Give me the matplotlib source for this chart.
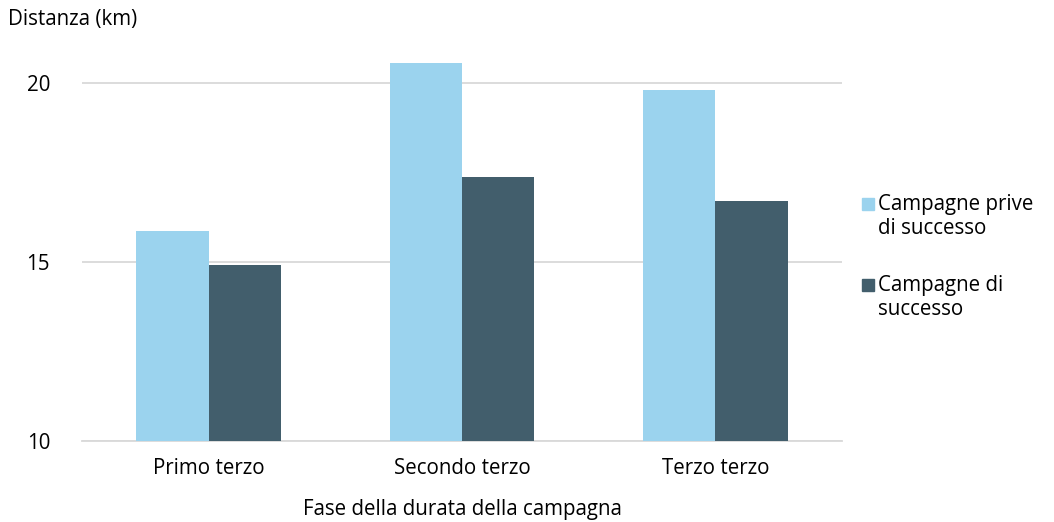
import numpy as np
import matplotlib.pyplot as plt
from matplotlib.patches import Rectangle

plt.rcParams['font.family'] = ['Open Sans', 'DejaVu Sans']

categories = ['Primo terzo', 'Secondo terzo', 'Terzo terzo']
senza_successo = [15.87, 20.56, 19.80]
con_successo = [14.92, 17.37, 16.70]
series_labels = ['Campagne prive\ndi successo', 'Campagne di\nsuccesso']
yticks = [10, 15, 20]

light = '#9BD3EE'
dark = '#425E6C'
W, H = 1054, 522
fs = 14.8

fig = plt.figure(figsize=(W / 100, H / 100), dpi=100)
ax = fig.add_axes([82 / W, 1 - 441 / H, 760 / W, (441 - 45) / H])

x = np.arange(len(categories))
w = 0.285
ax.bar(x - w / 2, senza_successo, w, color=light, zorder=3)
ax.bar(x + w / 2, con_successo, w, color=dark, zorder=3)

ax.set_xlim(-0.5, 2.5)
ax.set_ylim(10, 20 + 38 / 35.8)
ax.set_yticks(yticks)
ax.set_yticklabels([str(t) for t in yticks], fontsize=fs)
ax.yaxis.grid(True, color='#D9D9D9', linewidth=1.3, zorder=0)
ax.set_xticks(x)
ax.set_xticklabels(categories, fontsize=fs)
ax.tick_params(length=0, pad=23, axis='y')
ax.tick_params(length=0, pad=12, axis='x')
for s in ['top', 'right', 'left']:
    ax.spines[s].set_visible(False)
ax.spines['bottom'].set_color('#D9D9D9')
ax.spines['bottom'].set_linewidth(1.3)

ax.set_xlabel('Fase della durata della campagna', fontsize=fs, labelpad=15)
fig.text(8 / W, 1 - 20 / H, 'Distanza (km)', fontsize=fs, va='center', ha='left')

# legend drawn by hand so the swatch sits on the first text line
for i, (lab, col) in enumerate(zip(series_labels, [light, dark])):
    ytop = 204 + i * 81
    fig.patches.append(Rectangle((862 / W, 1 - (ytop + 6) / H), 12 / W, 12 / H,
                                 transform=fig.transFigure, color=col))
    fig.text(878 / W, 1 - (ytop - 10) / H, lab, fontsize=fs, ha='left', va='top',
             linespacing=1.2)

fig.savefig('out.png', dpi=100)
